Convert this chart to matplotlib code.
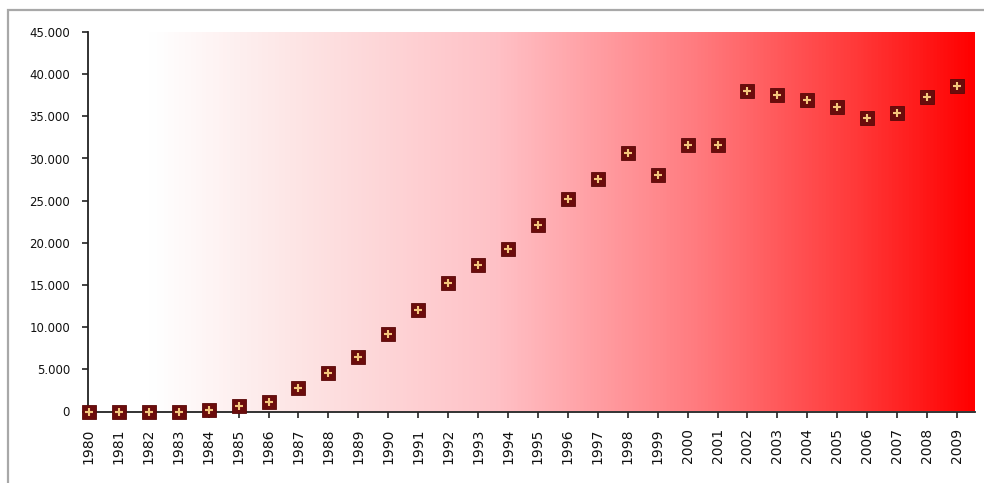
import matplotlib
matplotlib.use("Agg")
import matplotlib.pyplot as plt
import numpy as np
from matplotlib.colors import LinearSegmentedColormap
from matplotlib.patches import Rectangle
from matplotlib.ticker import FuncFormatter

years = [str(y) for y in range(1980, 2010)]
values = [0, 0, 0, 0, 150, 600, 1150, 2800, 4550, 6450, 9200, 12050, 15250,
          17400, 19300, 22150, 25250, 27600, 30700, 28100, 31650, 31650,
          37950, 37500, 36900, 36150, 34750, 35350, 37350, 38550]
y_ticks = list(range(0, 45001, 5000))

fig = plt.figure(figsize=(9.84, 4.83), dpi=100)
fig.patch.set_facecolor("white")

# light grey chart frame
fig.add_artist(Rectangle((7.5 / 984, -0.05), 1.05, (483 - 10) / 483 + 0.05,
                         transform=fig.transFigure, fill=False,
                         edgecolor="#a8a8a8", linewidth=1.6))

ax = fig.add_axes([88 / 984, (483 - 411.5) / 483, (975 - 88) / 984, (411.5 - 32) / 483])

# horizontal white-to-red background gradient
grad_cmap = LinearSegmentedColormap.from_list("bg", [
    (0.00, "#ffffff"), (0.07, "#ffffff"), (0.24, "#fde4e4"),
    (0.46, "#ffc1c6"), (0.69, "#ff7a7e"), (0.87, "#ff3838"),
    (1.00, "#ff0000")])
ax.imshow(np.linspace(0, 1, 512).reshape(1, -1), aspect="auto", cmap=grad_cmap,
          extent=[0, 1, 0, 1], transform=ax.transAxes, zorder=0)

x = np.arange(len(years))
ax.plot(x, values, linestyle="none", marker="s", markersize=9.5,
        markerfacecolor="#6b0c0c", markeredgecolor="#5a0808", markeredgewidth=0.6,
        zorder=3, clip_on=False)
ax.plot(x, values, linestyle="none", marker="+", markersize=6,
        markeredgecolor="#f3c77c", markeredgewidth=1.5, zorder=4, clip_on=False)

ax.set_xlim(-0.03, 29.6)
ax.set_ylim(0, 45000)
ax.set_xticks(x)
ax.set_xticklabels(years, rotation=90)
ax.set_yticks(y_ticks)
ax.yaxis.set_major_formatter(FuncFormatter(lambda v, p: f"{int(v):,}".replace(",", ".")))

for s in ["top", "right"]:
    ax.spines[s].set_visible(False)
for s in ["left", "bottom"]:
    ax.spines[s].set_color("#222222")
    ax.spines[s].set_linewidth(1.3)
    ax.spines[s].set_zorder(2)

ax.tick_params(axis="both", direction="out", length=4, width=1.2, color="#222222",
               labelcolor="#111111")
ax.tick_params(axis="y", pad=9, labelsize=8.5)
ax.tick_params(axis="x", pad=8, labelsize=10)

fig.savefig("out.png", dpi=100)
